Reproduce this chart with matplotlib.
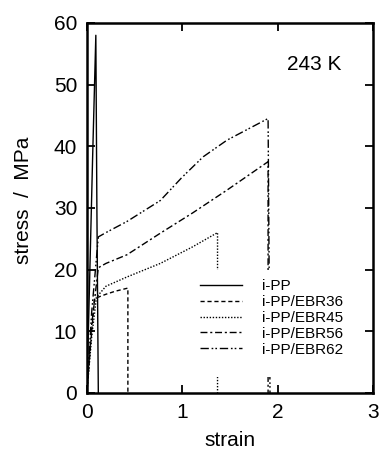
import numpy as np
import matplotlib.pyplot as plt
from matplotlib.patches import Rectangle

plt.rcParams['font.family'] = ['Liberation Sans', 'DejaVu Sans']

# stress-strain curves at 243 K
ipp_strain = [0.0, 0.03, 0.06, 0.094, 0.105, 0.12]
ipp_stress = [0.0, 19.0, 38.0, 58.0, 30.0, 0.0]

ebr36_strain = [0.0, 0.04, 0.08, 0.2, 0.3, 0.43, 0.43]
ebr36_stress = [0.0, 8.0, 15.3, 16.0, 16.5, 17.0, 0.0]

ebr45_strain = [0.0, 0.05, 0.1, 0.2, 0.42, 0.77, 1.11, 1.37, 1.37]
ebr45_stress = [0.0, 9.0, 15.5, 17.3, 18.8, 21.0, 23.7, 26.0, 0.0]

ebr56_strain = [0.0, 0.05, 0.12, 0.2, 0.42, 0.77, 1.11, 1.47, 1.9, 1.9]
ebr56_stress = [0.0, 11.0, 20.3, 21.0, 22.4, 25.9, 29.2, 32.9, 37.5, 0.0]

ebr62_strain = [0.0, 0.05, 0.12, 0.2, 0.42, 0.77, 1.0, 1.22, 1.47, 1.9, 1.92]
ebr62_stress = [0.0, 13.0, 25.3, 26.0, 27.8, 31.2, 35.0, 38.3, 41.0, 44.5, 0.0]

fig = plt.figure(figsize=(3.81, 4.59), dpi=100)
ax = fig.add_axes([0.228, 0.144, 0.751, 0.806])

ax.plot(ipp_strain, ipp_stress, color='black', lw=1.0, ls='-', label='i-PP')
ax.plot(ebr36_strain, ebr36_stress, color='black', lw=1.0, ls=(0, (3, 2)), label='i-PP/EBR36')
ax.plot(ebr45_strain, ebr45_stress, color='black', lw=1.0, ls=(0, (1, 1.2)), label='i-PP/EBR45')
ax.plot(ebr56_strain, ebr56_stress, color='black', lw=1.0, ls=(0, (5, 2, 1.5, 2)), label='i-PP/EBR56')
ax.plot(ebr62_strain, ebr62_stress, color='black', lw=1.0, ls=(0, (6, 2, 1.2, 1.5, 1.2, 2)), label='i-PP/EBR62')

ax.set_xlim(0, 3)
ax.set_ylim(0, 60)
ax.set_xticks([0, 1, 2, 3])
ax.set_yticks([0, 10, 20, 30, 40, 50, 60])
ax.tick_params(direction='in', top=True, right=True, length=6, width=1.3,
               labelsize=15, pad=7)
for s in ax.spines.values():
    s.set_linewidth(1.8)

ax.set_xlabel('strain', fontsize=15, labelpad=7)
ax.set_ylabel('stress  /  MPa', fontsize=15)
ax.yaxis.set_label_coords(-0.19, 0.52)
ax.text(2.1, 53.3, '243 K', fontsize=15, va='center')

# white box behind the legend hides the drops, as in the original
ax.add_patch(Rectangle((0.37, 0.043), 0.58, 0.289, transform=ax.transAxes,
                       facecolor='white', edgecolor='none', zorder=2.5))
leg = ax.legend(loc='upper left', bbox_to_anchor=(0.395, 0.307), fontsize=11,
                frameon=False, handlelength=2.75, handletextpad=1.3,
                labelspacing=0.12, borderpad=0, borderaxespad=0)
leg.set_zorder(5)

plt.savefig('out.png', dpi=100)
